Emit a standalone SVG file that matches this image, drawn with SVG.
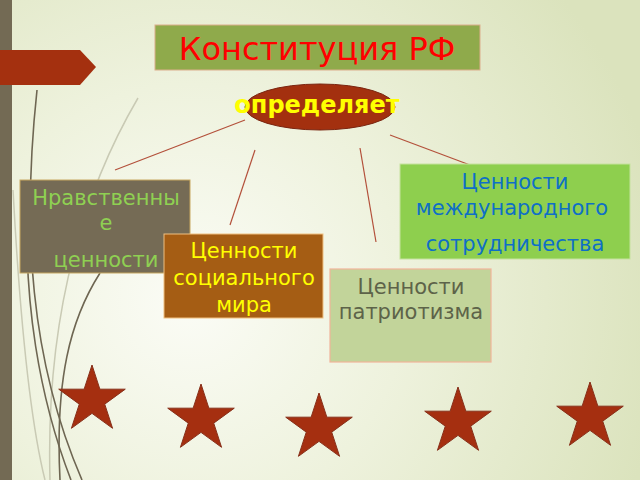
<svg xmlns="http://www.w3.org/2000/svg" width="640" height="480" viewBox="0 0 640 480">
<defs>
<radialGradient id="bg" gradientUnits="userSpaceOnUse" cx="190" cy="300" r="480">
<stop offset="0" stop-color="#fbfcf6"/>
<stop offset="0.45" stop-color="#eef2dd"/>
<stop offset="1" stop-color="#dbe3bd"/>
</radialGradient>
<path id="star" d="M0,-35 L7.86,-10.82 L33.29,-10.82 L12.72,4.13 L20.57,28.32 L0,13.37 L-20.57,28.32 L-12.72,4.13 L-33.29,-10.82 L-7.86,-10.82 Z"/>
<style>
text{font-family:"DejaVu Sans","Liberation Sans",sans-serif;text-anchor:middle}
.t20{font-size:21px}
.conn line{stroke:#b3503a;stroke-width:1.2}
.wd{fill:none;stroke:#6e6652;stroke-width:1.6}
.wl{fill:none;stroke:#c9cab4;stroke-width:1.5}
.st{fill:#a52f10;stroke:#87301a;stroke-width:1}
</style>
</defs>
<rect width="640" height="480" fill="url(#bg)"/>
<g id="wisps">
<path class="wl" d="M138,98 C90,180 45,300 50,480"/>
<path class="wl" d="M13,190 C20,320 30,420 45,480"/>
<path class="wd" d="M37,90 C22,230 30,360 82,480"/>
<path class="wd" d="M28,190 C22,300 40,400 71,480"/>
<path class="wd" d="M100,273 C70,320 55,380 60,480"/>
</g>
<rect x="0" y="0" width="12" height="480" fill="#736a54"/>
<polygon points="0,50 80,50 96,67 80,85 0,85" fill="#a4300f"/>
<g class="conn" id="connectors">
<line x1="245" y1="120" x2="115" y2="170"/>
<line x1="255" y1="150" x2="230" y2="225"/>
<line x1="360" y1="148" x2="376" y2="242"/>
<line x1="390" y1="135" x2="470" y2="165"/>
</g>
<g id="title">
<rect x="155" y="25" width="325" height="45" fill="#8faa4b" stroke="#dcae8c" stroke-width="1"/>
<text x="317" y="60" style="font-size:32px" fill="#ff0000">Конституция РФ</text>
</g>
<g id="defines">
<ellipse cx="320" cy="107" rx="75" ry="23" fill="#a3300f" stroke="#7a2510" stroke-width="1"/>
<text x="317" y="113" style="font-size:24px;font-weight:bold" fill="#ffff00">определяет</text>
</g>
<g id="moral">
<rect x="20" y="180" width="170" height="93" fill="#756b55" stroke="#c8a860" stroke-width="1"/>
<text class="t20" fill="#8fd052"><tspan x="106" y="205">Нравственны</tspan><tspan x="106" y="230">е</tspan><tspan x="106" y="267">ценности</tspan></text>
</g>
<g id="intl">
<rect x="400" y="164" width="230" height="95" fill="#8ecf4e" stroke="#c5e29e" stroke-width="1"/>
<text class="t20" fill="#0f6fc6"><tspan x="515" y="189">Ценности</tspan><tspan x="512" y="215">международного</tspan><tspan x="515" y="251">сотрудничества</tspan></text>
</g>
<g id="social">
<rect x="164" y="234" width="159" height="84" fill="#a55d14" stroke="#f0c080" stroke-width="1"/>
<text class="t20" fill="#ffff00"><tspan x="244" y="258">Ценности</tspan><tspan x="244" y="285">социального</tspan><tspan x="244" y="312">мира</tspan></text>
</g>
<g id="patriot">
<rect x="330" y="269" width="161" height="93" fill="#c2d49a" stroke="#f0b49a" stroke-width="1.2"/>
<text class="t20" fill="#5d6349"><tspan x="411" y="294">Ценности</tspan><tspan x="411" y="319">патриотизма</tspan></text>
</g>
<g id="stars">
<use href="#star" class="st" transform="translate(92,400)"/>
<use href="#star" class="st" transform="translate(201,419)"/>
<use href="#star" class="st" transform="translate(319,428)"/>
<use href="#star" class="st" transform="translate(458,422)"/>
<use href="#star" class="st" transform="translate(590,417)"/>
</g>
</svg>
